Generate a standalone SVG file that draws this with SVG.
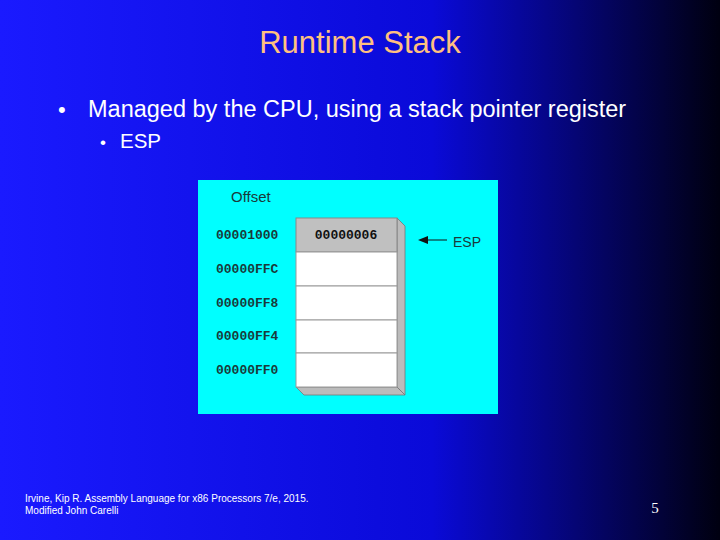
<svg xmlns="http://www.w3.org/2000/svg" width="720" height="540" viewBox="0 0 720 540">
<defs>
<linearGradient id="bg" x1="0" y1="0" x2="1" y2="0">
<stop offset="0" stop-color="#1a1aff"/><stop offset="0.6" stop-color="#0a0ad8"/><stop offset="1" stop-color="#000010"/>
</linearGradient>
<style>
.s{font-family:"Liberation Sans",Arial,sans-serif}
.m{font-family:"Liberation Mono","Courier New",monospace;font-weight:bold;font-size:13px;fill:#1a3a3a}
.cell{fill:#fff;stroke:#999;stroke-width:1}
.sh{fill:#bbb;stroke:#777;stroke-width:0.8}
</style>
</defs>
<rect width="720" height="540" fill="url(#bg)"/>
<text class="s" x="360" y="53" text-anchor="middle" font-size="31" fill="#ffc080">Runtime Stack</text>
<text class="s" x="58" y="117" font-size="22" fill="#fff">•</text>
<text class="s" x="88" y="117" font-size="23.5" fill="#fff">Managed by the CPU, using a stack pointer register</text>
<text class="s" x="100" y="148" font-size="17" fill="#fff">•</text>
<text class="s" x="120" y="148" font-size="20.5" fill="#fff">ESP</text>
<g id="panel">
<rect x="198" y="180" width="300" height="234" fill="#00ffff"/>
<text class="s" x="231" y="202" font-size="15" fill="#1a3a3a">Offset</text>
</g>
<g id="stack">
<polygon class="sh" points="397,218 405,226 405,395 397,387"/>
<polygon class="sh" points="296,387 397,387 405,395 304,395"/>
<rect x="296" y="218" width="101" height="34" fill="#c0c0c0" stroke="#888"/>
<rect class="cell" x="296" y="252" width="101" height="34"/>
<rect class="cell" x="296" y="286" width="101" height="34"/>
<rect class="cell" x="296" y="320" width="101" height="33"/>
<rect class="cell" x="296" y="353" width="101" height="34"/>
<text class="m" x="346" y="239" text-anchor="middle" style="fill:#111">00000006</text>
</g>
<g id="offsets">
<text class="m" x="216" y="239">00001000</text>
<text class="m" x="216" y="273">00000FFC</text>
<text class="m" x="216" y="307">00000FF8</text>
<text class="m" x="216" y="340">00000FF4</text>
<text class="m" x="216" y="374">00000FF0</text>
</g>
<g id="connectors">
<line x1="447" y1="240" x2="426" y2="240" stroke="#111" stroke-width="1"/>
<polygon points="418,240 428,236 428,244" fill="#111"/>
</g>
<text class="s" x="453" y="247" font-size="14" fill="#1a3a3a">ESP</text>
<text class="s" x="25" y="502" font-size="10" fill="#fff">Irvine, Kip R. Assembly Language for x86 Processors 7/e, 2015.</text>
<text class="s" x="25" y="514" font-size="10" fill="#fff">Modified John Carelli</text>
<text x="655" y="513" font-family="Liberation Serif,serif" font-size="15" fill="#fff" text-anchor="middle">5</text>
</svg>
